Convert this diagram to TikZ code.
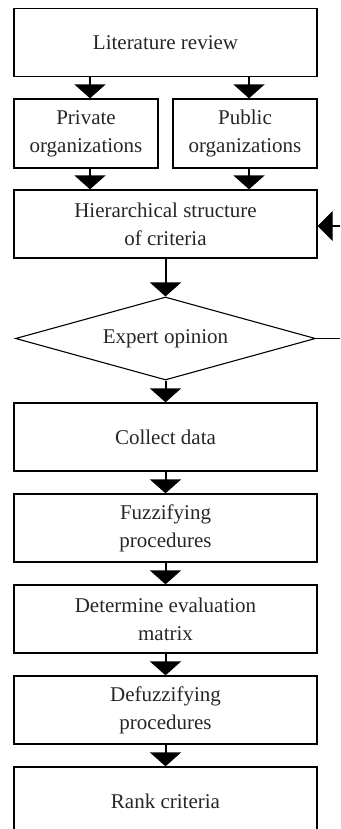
\documentclass[tikz,border=0pt]{standalone}
\usepackage{fontspec}
\setmainfont{Liberation Serif}
\usetikzlibrary{shapes.geometric,arrows.meta}
\begin{document}
\begin{tikzpicture}[x=1pt,y=-1pt,
  box/.style={draw, line width=1.3pt, minimum width=303pt, minimum height=68pt,
    inner sep=0pt, align=center, text=black!85, font=\fontsize{21}{28}\selectfont},
  smallbox/.style={box, minimum width=144pt},
  decision/.style={diamond, draw, line width=1.1pt, aspect=3.614, minimum width=300pt, minimum height=83pt,
    inner sep=0pt, text=black!85, font=\fontsize{21}{28}\selectfont},
  arr/.style={line width=2pt, -{Triangle[width=31pt,length=14pt]}},
  fbline/.style={line width=1.3pt},
  fbarr/.style={line width=1.3pt, -{Triangle[width=30pt,length=15pt]}}]
\useasboundingbox (0,0) rectangle (340,829);
\clip (0,0) rectangle (340,829);
\node[box] (lit) at (165.5,42.5) {Literature review};
\node[smallbox, minimum height=69pt] (priv) at (86,133.5) {Private\\organizations};
\node[smallbox, minimum height=69pt] (pub) at (245,133.5) {Public\\organizations};
\node[box] (hier) at (165.5,224) {Hierarchical structure\\of criteria};
\node[decision] (diam) at (165.5,338.5) {Expert opinion};
\node[box] (coll) at (165.5,437) {Collect data};
\node[box] (fuzz) at (165.5,528) {Fuzzifying\\procedures};
\node[box] (det) at (165.5,619) {Determine evaluation\\matrix};
\node[box] (defz) at (165.5,710) {Defuzzifying\\procedures};
\node[box] (rank) at (165.5,801) {Rank criteria};
\draw[arr] ([xshift=4pt]priv.north |- lit.south) -- ([xshift=4pt]priv.north);
\draw[arr] ([xshift=4pt]pub.north |- lit.south) -- ([xshift=4pt]pub.north);
\draw[arr] ([xshift=4pt]priv.south) -- ([xshift=4pt]priv.south |- hier.north);
\draw[arr] ([xshift=4pt]pub.south) -- ([xshift=4pt]pub.south |- hier.north);
\draw[arr] (hier.south) -- (diam.north);
\draw[arr] (diam.south) -- (coll.north);
\draw[arr] (coll.south) -- (fuzz.north);
\draw[arr] (fuzz.south) -- (det.north);
\draw[arr] (det.south) -- (defz.north);
\draw[arr] (defz.south) -- (rank.north);
\coordinate (fb) at (342,338.5);
\draw[fbline] (diam.east) -- (fb);
\draw[fbarr] (fb) |- ([yshift=-2pt]hier.east);
\end{tikzpicture}
\end{document}
